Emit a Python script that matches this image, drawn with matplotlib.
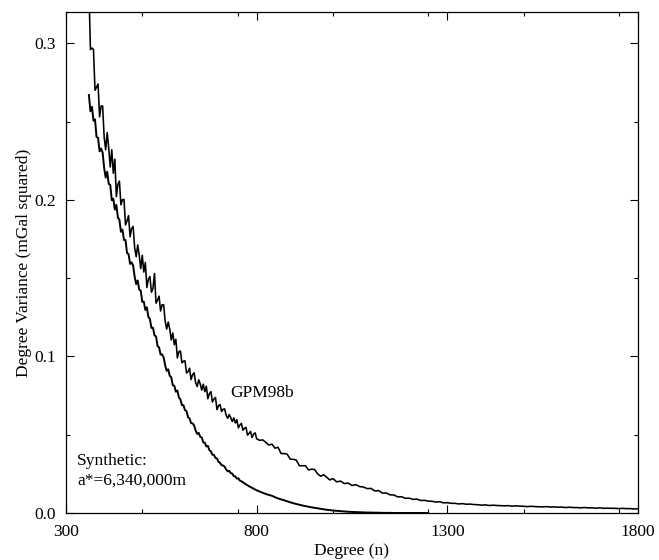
import matplotlib

matplotlib.use("Agg")
import matplotlib.pyplot as plt  # noqa: E402
from matplotlib.ticker import MultipleLocator  # noqa: E402

plt.rcParams["font.family"] = ["Liberation Serif", "DejaVu Serif"]

# GPM98b degree variances
gpm_n = list(range(360, 801, 4)) + list(range(808, 1001, 8)) + list(range(1010, 1801, 10))
gpm_v = [
    # 360 .. 436
    0.335, 0.296, 0.297, 0.296, 0.270, 0.272, 0.274, 0.253, 0.260, 0.260,
    0.240, 0.232, 0.243, 0.233, 0.221, 0.232, 0.217, 0.226, 0.202, 0.210,
    # 440 .. 516
    0.212, 0.1968, 0.2001, 0.2003, 0.184, 0.1866, 0.1899, 0.1764, 0.1818, 0.183,
    0.1695, 0.1637, 0.1712, 0.1647, 0.1561, 0.1646, 0.1539, 0.160, 0.144, 0.1494,
    # 520 .. 596
    0.151, 0.141, 0.1435, 0.153, 0.134, 0.136, 0.1385, 0.129, 0.133, 0.133,
    0.1225, 0.1175, 0.122, 0.1175, 0.1105, 0.115, 0.1075, 0.111, 0.099, 0.103,
    # 600 .. 676
    0.1035, 0.0959, 0.097, 0.0972, 0.0895, 0.0903, 0.0925, 0.0852, 0.0884, 0.0895,
    0.0832, 0.0808, 0.0851, 0.0824, 0.0785, 0.0823, 0.0775, 0.081, 0.073, 0.0762,
    # 680 .. 756
    0.0775, 0.0709, 0.0728, 0.0738, 0.066, 0.0686, 0.0693, 0.0648, 0.0663, 0.0665,
    0.0624, 0.0605, 0.0629, 0.0609, 0.0584, 0.0608, 0.0575, 0.0596, 0.0544, 0.0562,
    # 760 .. 800
    0.0572, 0.0529, 0.0541, 0.0547, 0.0498, 0.0508, 0.0521, 0.0482, 0.0505, 0.0512,
    0.0474,
    # 808 .. 1000 (step 8)
    0.0464, 0.0467, 0.0451, 0.0434, 0.044, 0.0414, 0.042, 0.038, 0.038, 0.0376,
    0.0344, 0.0343, 0.0338, 0.0302, 0.0302, 0.0302, 0.0275, 0.028, 0.0278, 0.025,
    0.0235, 0.0244, 0.0228, 0.0211, 0.022,
    # 1010 .. 1800 (step 10)
    0.0199, 0.0204, 0.0188, 0.0191, 0.0176, 0.0181, 0.0169, 0.0166, 0.0156, 0.0157,
    0.0141, 0.0143, 0.0127, 0.0128, 0.0116, 0.0115, 0.0103, 0.0104, 0.0094, 0.0095,
    0.0087, 0.0089, 0.0080, 0.0081, 0.0076, 0.0075, 0.0070, 0.0072, 0.0065, 0.0066,
    0.0062, 0.0062, 0.0058, 0.0060, 0.0056, 0.0057, 0.0054, 0.0053, 0.0050, 0.0052,
    0.0048, 0.0050, 0.0048, 0.0047, 0.0046, 0.0047, 0.0044, 0.0046, 0.0044, 0.0043,
    0.0041, 0.0043, 0.0041, 0.0040, 0.0039, 0.0041, 0.0038, 0.0039, 0.0037, 0.0038,
    0.0035, 0.0037, 0.0035, 0.0035, 0.0033, 0.0035, 0.0033, 0.0033, 0.0031, 0.0033,
    0.0030, 0.0031, 0.0030, 0.0030, 0.0028, 0.0030, 0.0028, 0.0028, 0.0026, 0.0027,
]

# Synthetic model (a* = 6,340,000 m)
syn_n = list(range(360, 761, 4)) + list(range(770, 1251, 10))
syn_v = [
    # 360 .. 436
    0.267, 0.2566, 0.2594, 0.2506, 0.2514, 0.2402, 0.2396, 0.231, 0.2328, 0.2302,
    0.2204, 0.2142, 0.218, 0.2102, 0.2096, 0.1998, 0.2008, 0.1938, 0.1968, 0.1886,
    # 440 .. 516
    0.1874, 0.1796, 0.181, 0.1744, 0.1744, 0.166, 0.1654, 0.1591, 0.1601, 0.158,
    0.1509, 0.1462, 0.1485, 0.1427, 0.142, 0.1348, 0.135, 0.1297, 0.1314, 0.1252,
    # 520 .. 596
    0.1239, 0.1182, 0.1184, 0.1135, 0.1128, 0.1067, 0.1058, 0.1012, 0.1013, 0.0994,
    0.0943, 0.0908, 0.0918, 0.0876, 0.0867, 0.0816, 0.0813, 0.0775, 0.0782, 0.0738,
    # 600 .. 676
    0.0726, 0.0689, 0.0689, 0.0657, 0.0651, 0.0612, 0.0604, 0.0574, 0.0573, 0.0559,
    0.0526, 0.0505, 0.0512, 0.0487, 0.0482, 0.0451, 0.0449, 0.0425, 0.0429, 0.0402,
    # 680 .. 760
    0.0393, 0.0372, 0.0371, 0.0352, 0.0348, 0.0326, 0.0321, 0.0305, 0.0304, 0.0296,
    0.0278, 0.0266, 0.0269, 0.0255, 0.0252, 0.0235, 0.0234, 0.022, 0.0222, 0.0207,
    0.0203,
    # 770 .. 1250 (step 10)
    0.0186, 0.0171, 0.0158, 0.0145,
    0.0135, 0.0125, 0.0117, 0.0110, 0.0099, 0.0090, 0.0083, 0.0075, 0.0067, 0.0060,
    0.0054, 0.0048, 0.0043, 0.0038, 0.0034, 0.0030, 0.0026, 0.0022, 0.0019, 0.0016,
    0.0014, 0.0012, 0.0010, 0.0008, 0.0007, 0.0006, 0.0005, 0.0004, 0.0003, 0.0003,
    0.0002, 0.0002, 0.0001, 0.0001, 0.0001, 0.0, 0.0, 0.0, 0.0, 0.0,
    0.0, 0.0, 0.0, 0.0, 0.0,
]

x_ticks = [300, 800, 1300, 1800]
y_ticks = [0.0, 0.1, 0.2, 0.3]

fig = plt.figure(figsize=(6.59, 5.6), dpi=100)
ax = fig.add_axes([0.1002, 0.0839, 0.8678, 0.8947])

ax.plot(gpm_n, gpm_v, color="black", linewidth=1.15)
ax.plot(syn_n, syn_v, color="black", linewidth=1.4)

ax.set_xlim(300, 1800)
ax.set_ylim(0, 0.32)
ax.set_xticks(x_ticks)
ax.set_yticks(y_ticks)
ax.set_yticklabels([f"{v:.1f}" for v in y_ticks])
ax.xaxis.set_minor_locator(MultipleLocator(250))
ax.yaxis.set_minor_locator(MultipleLocator(0.05))
ax.tick_params(which="both", direction="in", top=True, right=True,
               labelsize=12.5, width=0.8)
ax.tick_params(which="major", length=6)
ax.tick_params(which="minor", length=3)
ax.tick_params(axis="x", which="major", pad=8)
ax.tick_params(axis="y", which="major", pad=7)
for s in ax.spines.values():
    s.set_linewidth(0.9)

ax.set_xlabel("Degree (n)", fontsize=12.5, labelpad=2)
ax.set_ylabel("Degree Variance (mGal squared)", fontsize=12.5, labelpad=2)

ax.text(730, 0.0766, "GPM98b", fontsize=12.5, va="center", ha="left")
ax.text(329, 0.033, "Synthetic:", fontsize=12.5, va="center", ha="left")
ax.text(329, 0.0204, "a*=6,340,000m", fontsize=12.5, va="center", ha="left")

fig.savefig("out.png", dpi=100)
plt.close(fig)
